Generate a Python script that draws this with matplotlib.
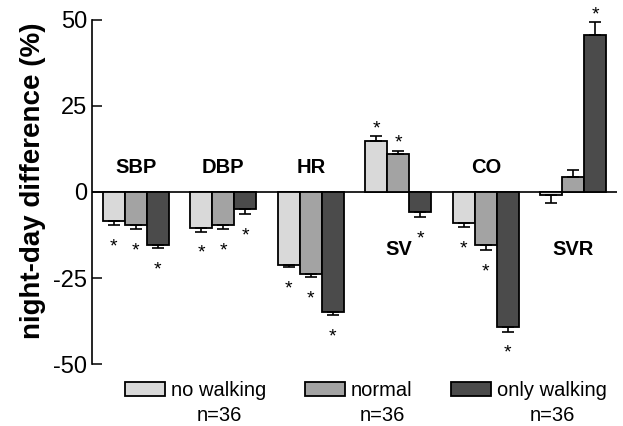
import numpy as np
import matplotlib
matplotlib.use("Agg")
import matplotlib.pyplot as plt

plt.rcParams['font.family'] = ['Liberation Sans', 'DejaVu Sans']
plt.rcParams['axes.unicode_minus'] = False

# variables and groups
variables = ['SBP', 'DBP', 'HR', 'SV', 'CO', 'SVR']
groups = ['no walking', 'normal', 'only walking']
group_n = ['n=36', 'n=36', 'n=36']

# night-day difference (%) per group, one value per variable
no_walking = [-8.4, -10.5, -21.1, 14.7, -8.9, -0.9]
normal = [-9.6, -9.6, -23.8, 10.9, -15.3, 4.4]
only_walking = [-15.4, -5.0, -34.8, -5.9, -39.2, 45.6]

# SEM
no_walking_err = [1.1, 1.0, 0.8, 1.5, 1.2, 2.2]
normal_err = [1.2, 1.3, 0.9, 1.1, 1.5, 1.9]
only_walking_err = [1.0, 1.5, 1.0, 1.5, 1.3, 3.7]

# significant night-day difference (*)
no_walking_sig = [1, 1, 1, 1, 1, 0]
normal_sig = [1, 1, 1, 1, 1, 0]
only_walking_sig = [1, 1, 1, 1, 1, 1]

# where the variable names sit (y, data units)
label_y = [5.5, 5.5, 5.5, -18.2, 5.5, -18.2]

values = [no_walking, normal, only_walking]
errors = [no_walking_err, normal_err, only_walking_err]
sigs = [no_walking_sig, normal_sig, only_walking_sig]
colors = ['#d9d9d9', '#a3a3a3', '#4b4b4b']

fig = plt.figure(figsize=(6.23, 4.26), dpi=100)
ax = fig.add_axes([0.1477, 0.1448, 0.8427, 0.8094])

x = np.arange(len(variables))
w = 0.25
ax.axhline(0, color='k', lw=1.2, zorder=1)

for i, (vals, errs, sig) in enumerate(zip(values, errors, sigs)):
    xs = x + (i - 1) * w
    vals = np.array(vals)
    errs = np.array(errs)
    ax.bar(xs, vals, width=w, color=colors[i], edgecolor='k', linewidth=1.3,
           label=groups[i], zorder=2)
    # one-sided error bars pointing away from zero
    lower = np.where(vals < 0, errs, 0)
    upper = np.where(vals >= 0, errs, 0)
    ax.errorbar(xs, vals, yerr=[lower, upper], fmt='none', ecolor='k',
                elinewidth=1.2, capsize=4, capthick=1.2, zorder=3)
    for xi, v, e, s in zip(xs, vals, errs, sig):
        if not s:
            continue
        if v < 0:
            ax.annotate('*', xy=(xi, v - e), xytext=(0, -19), textcoords='offset points',
                        ha='center', va='baseline', fontsize=14)
        else:
            ax.annotate('*', xy=(xi, v + e), xytext=(0, 2), textcoords='offset points',
                        ha='center', va='baseline', fontsize=14)

for xi, name, ly in zip(x, variables, label_y):
    ax.text(xi, ly, name, ha='center', va='baseline', fontsize=14.5, fontweight='bold')

ax.set_xlim(-0.5, 5.5)
ax.set_ylim(-50, 50)
ax.set_yticks([-50, -25, 0, 25, 50])
ax.set_xticks([])
for side in ['top', 'right', 'bottom']:
    ax.spines[side].set_visible(False)
ax.spines['left'].set_linewidth(1.2)
ax.tick_params(axis='y', direction='in', length=7, width=1.1, pad=3.5, labelsize=17)

ax.set_ylabel('night-day difference (%)', fontsize=20, fontweight='bold')
ax.yaxis.set_label_coords(-0.088, 0.532)

leg = ax.legend(loc='upper left', bbox_to_anchor=(0.2006, 0.1056),
                bbox_transform=fig.transFigure, ncol=3, frameon=False,
                fontsize=14.5, handlelength=2.0, handleheight=0.75,
                handletextpad=0.3, columnspacing=1.9, borderpad=0, borderaxespad=0)
# group sizes under each legend label (drawn after the legend)
for t, n in zip(leg.get_texts(), group_n):
    ax.annotate(n, xy=(0.5, 0), xycoords=t, xytext=(0, -15), textcoords='offset points',
                ha='center', va='baseline', fontsize=14.5, annotation_clip=False,
                zorder=10)

fig.savefig('out.png', dpi=100)
